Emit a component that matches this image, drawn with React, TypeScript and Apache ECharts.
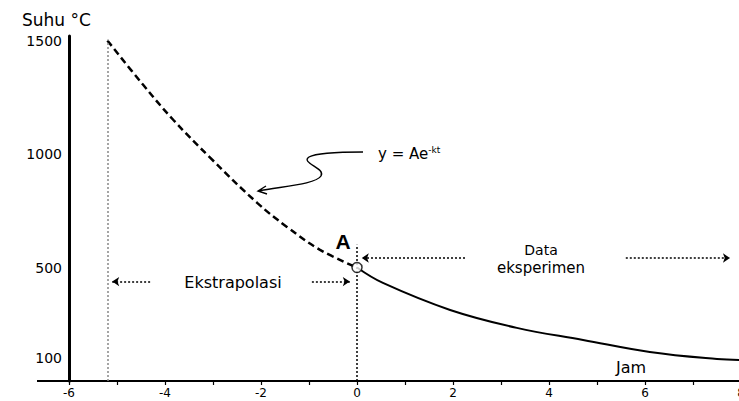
import React, { useEffect, useRef } from 'react';
import * as echarts from 'echarts';

// Curve (x in jam, y in °C)
const extrapX = [-5.2, -4.46, -3.83, -3.06, -2.08, -1.46, -0.77, 0];
const extrapY = [1500, 1306, 1151, 984, 785, 679, 578, 500];
const dataX = [0, 0.54, 1.94, 3.33, 4.71, 6.1, 7.5, 8];
const dataY = [500, 432, 313, 234, 181, 128, 97, 93];

// Point A
const pointA: [number, number] = [0, 500];

// Axis tick labels
const yTickLabels = [100, 500, 1000, 1500];
const xTickLabels = [-6, -4, -2, 0, 2, 4, 6, 8];

// Guide lines (data coordinates)
const extrapStartX = -5.2;
const extrapArrowY = 438;
const dataArrowY = 542;
const extrapArrows: [number, number][] = [[-4.31, -5.1], [-0.94, -0.15]];
const dataArrows: [number, number][] = [[2.25, 0.1], [5.6, 7.77]];

const squigglePath =
  'M363,152 C345,152 318,152 309,157 C300,163 326,168 321,176 C316,184 285,186 258,191 M266,186 L258,191 L267,194';
echarts.graphic.registerShape('squiggle', echarts.graphic.extendPath(squigglePath, {}));

export default function App() {
  const ref = useRef<HTMLDivElement>(null);
  useEffect(() => {
    document.body.style.margin = '0';
    const chart = echarts.init(ref.current!, null, { renderer: 'svg' });
    const font = 'DejaVu Sans';
    const option: any = {
      animation: false,
      grid: { left: 69, top: 36, width: 672, height: 345, containLabel: false, outerBoundsMode: 'none' },
      xAxis: {
        type: 'value',
        min: -6,
        max: 8,
        interval: 1,
        axisLine: { show: true, onZero: false, lineStyle: { color: '#000', width: 2 } },
        axisTick: { show: true, length: 4, lineStyle: { color: '#000', width: 1.2 } },
        axisLabel: {
          color: '#000',
          fontFamily: font,
          fontSize: 12,
          margin: 6,
          formatter: (v: number) => (xTickLabels.includes(v) ? String(v) : ''),
        },
        splitLine: { show: false },
      },
      yAxis: {
        type: 'value',
        min: 0,
        max: 1520,
        axisLine: { show: true, onZero: false, lineStyle: { color: '#000', width: 3 } },
        axisTick: { show: false },
        axisLabel: {
          color: '#000',
          fontFamily: font,
          fontSize: 14,
          margin: 7,
          customValues: yTickLabels,
          formatter: (v: number) => String(v),
        },
        splitLine: { show: false },
      },
      series: [
        {
          type: 'line',
          name: 'Ekstrapolasi',
          data: extrapX.map((x, i) => [x, extrapY[i]]),
          smooth: 0.4,
          symbol: 'none',
          lineStyle: { color: '#000', width: 2.5, type: [7, 4] },
          z: 3,
          markLine: {
            silent: true,
            symbol: ['none', 'none'],
            label: { show: false },
            data: [
              [
                { coord: [extrapStartX, 0], lineStyle: { color: '#888', width: 1.5, type: [2, 2] } },
                { coord: [extrapStartX, 1505] },
              ],
              [
                { coord: [0, 0], lineStyle: { color: '#000', width: 1.5, type: [2, 2] } },
                { coord: [0, 600] },
              ],
            ],
          },
        },
        {
          type: 'line',
          name: 'Data eksperimen',
          data: dataX.map((x, i) => [x, dataY[i]]),
          smooth: 0.4,
          symbol: 'none',
          lineStyle: { color: '#000', width: 2 },
          z: 3,
          markLine: {
            silent: true,
            symbol: ['none', 'arrow'],
            symbolSize: [7, 7],
            label: { show: false },
            lineStyle: { color: '#000', width: 1.5, type: [2, 2] },
            data: [
              ...extrapArrows.map(([a, b]) => [{ coord: [a, extrapArrowY] }, { coord: [b, extrapArrowY] }]),
              ...dataArrows.map(([a, b]) => [{ coord: [a, dataArrowY] }, { coord: [b, dataArrowY] }]),
            ],
          },
        },
        {
          type: 'scatter',
          name: 'A',
          data: [pointA],
          symbol: 'circle',
          symbolSize: 10,
          itemStyle: { color: '#fff', borderColor: '#000', borderWidth: 1.5 },
          z: 5,
        },
      ],
      graphic: [
        { type: 'line', shape: { x1: 37, y1: 381, x2: 69, y2: 381 }, style: { stroke: '#000', lineWidth: 2 } },
        {
          type: 'text',
          x: 22,
          y: 20,
          style: { text: 'Suhu °C', font: `17px "${font}"`, fill: '#000', textAlign: 'left', textVerticalAlign: 'middle' },
        },
        {
          type: 'text',
          x: 233,
          y: 282,
          style: { text: 'Ekstrapolasi', font: `16px "${font}"`, fill: '#000', textAlign: 'center', textVerticalAlign: 'middle' },
        },
        {
          type: 'text',
          x: 541,
          y: 250,
          style: { text: 'Data', font: `14px "${font}"`, fill: '#000', textAlign: 'center', textVerticalAlign: 'middle' },
        },
        {
          type: 'text',
          x: 541,
          y: 268,
          style: { text: 'eksperimen', font: `15px "${font}"`, fill: '#000', textAlign: 'center', textVerticalAlign: 'middle' },
        },
        {
          type: 'text',
          x: 631,
          y: 367,
          style: { text: 'Jam', font: `16px "${font}"`, fill: '#000', textAlign: 'center', textVerticalAlign: 'middle' },
        },
        {
          type: 'text',
          x: 343,
          y: 241,
          style: { text: 'A', font: 'bold 21px "Liberation Sans"', fill: '#000', textAlign: 'center', textVerticalAlign: 'middle' },
        },
        {
          type: 'text',
          x: 378,
          y: 154,
          style: {
            text: '{b|y = Ae}{s|-kt}',
            rich: {
              b: { font: `15px "${font}"`, fill: '#000', color: '#000' },
              s: { font: `9px "${font}"`, fill: '#000', color: '#000', verticalAlign: 'top', padding: [0, 0, 8, 0] },
            },
            textAlign: 'left',
            textVerticalAlign: 'middle',
          },
        },
        { type: 'squiggle', x: 0, y: 0, style: { stroke: '#000', fill: 'none', lineWidth: 1.4 } },
      ],
    };
    chart.setOption(option);
    return () => chart.dispose();
  }, []);
  return <div ref={ref} style={{ width: 739, height: 401 }} />;
}
